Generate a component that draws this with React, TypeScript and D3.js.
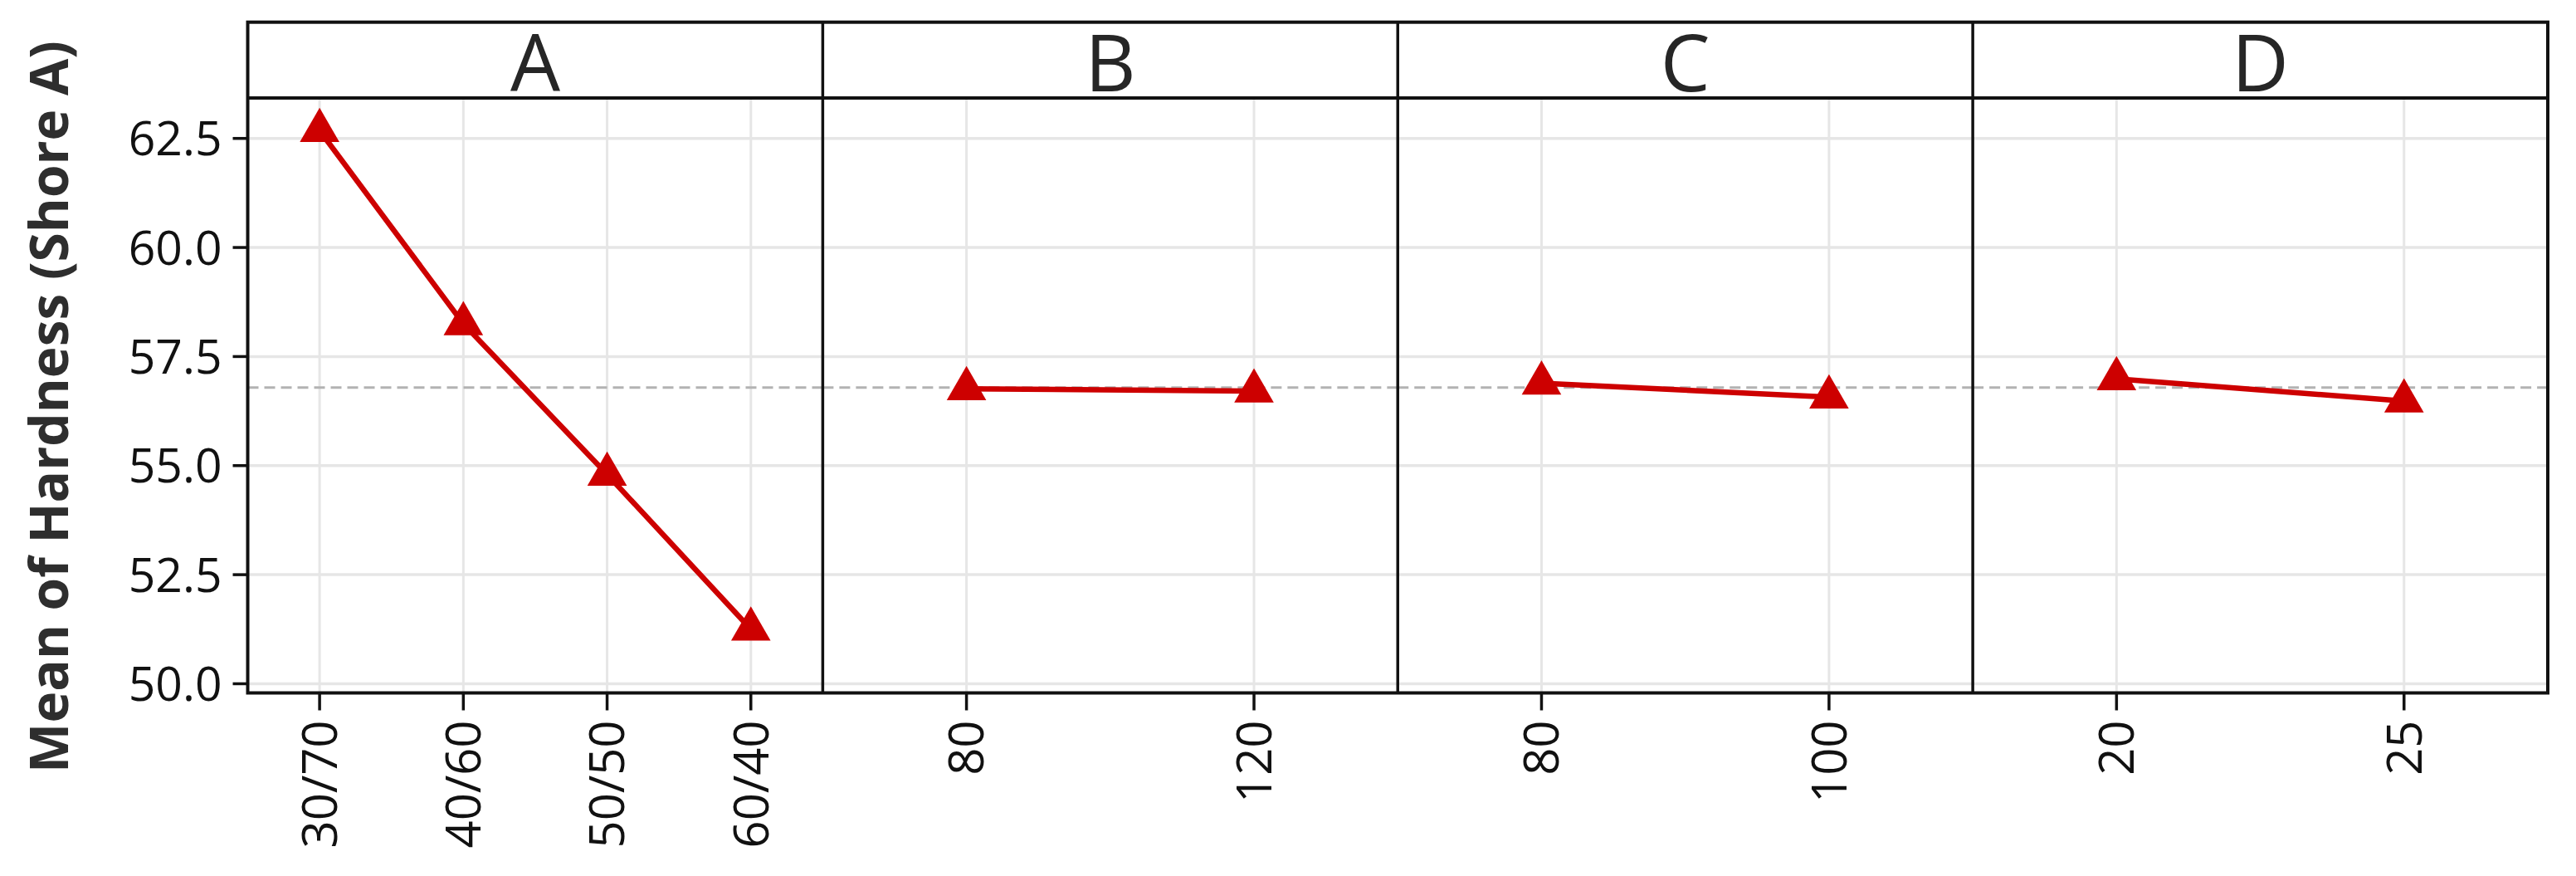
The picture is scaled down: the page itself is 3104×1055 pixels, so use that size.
import React from "react";
import * as d3 from "d3";

const factors = ["A", "B", "C", "D"];
const levelsA = ["30/70", "40/60", "50/50", "60/40"];
const levelsB = ["80", "120"];
const levelsC = ["80", "100"];
const levelsD = ["20", "25"];
const meansA = [62.68, 58.25, 54.8, 51.25];
const meansB = [56.76, 56.71];
const meansC = [56.89, 56.57];
const meansD = [56.99, 56.48];
const grandMean = 56.79;
const yTicks = [50.0, 52.5, 55.0, 57.5, 60.0, 62.5];
const yTitle = "Mean of Hardness (Shore A)";

const panelLevels = [levelsA, levelsB, levelsC, levelsD];
const panelMeans = [meansA, meansB, meansC, meansD];

const W = 3104;
const H = 1055;
const left = 298.5;
const right = 3070;
const top = 26.7;
const stripBottom = 118;
const bottom = 834.5;
const RED = "#CD0000";

export default function App() {
  React.useEffect(() => {
    document.body.style.margin = "0";
    document.body.style.overflow = "hidden";
  }, []);

  const y = d3.scaleLinear().domain([49.79, 63.427]).range([bottom, stripBottom]);
  const panelX = d3.scaleBand<string>().domain(factors).range([left, right]).padding(0);
  const bw = panelX.bandwidth();
  const r = 27.5;
  const tri = (cx: number, cy: number) =>
    `M${cx},${cy - r}L${cx + r * 0.866},${cy + r / 2}L${cx - r * 0.866},${cy + r / 2}Z`;
  const line = d3.line<[number, number]>().x((d) => d[0]).y((d) => d[1]);

  return (
    <svg width={W} height={H} style={{ position: "absolute", left: 0, top: 0, background: "#fff" }}>
      <rect x={0} y={0} width={W} height={H} fill="#fff" />
      {/* horizontal grid */}
      {yTicks.map((t) => (
        <line key={"hg" + t} x1={left} x2={right} y1={y(t)} y2={y(t)} stroke="#e6e6e6" strokeWidth={3.5} />
      ))}
      {factors.map((f, i) => {
        const x0 = panelX(f)!;
        const xs = d3.scalePoint<string>().domain(panelLevels[i]).range([x0, x0 + bw]).padding(0.5);
        const pts: [number, number][] = panelLevels[i].map((lv, j) => [xs(lv)!, y(panelMeans[i][j])]);
        return (
          <g key={f}>
            {panelLevels[i].map((lv) => (
              <line key={"vg" + lv} x1={xs(lv)} x2={xs(lv)} y1={stripBottom} y2={bottom} stroke="#e6e6e6" strokeWidth={3} />
            ))}
            <line x1={x0} x2={x0 + bw} y1={y(grandMean)} y2={y(grandMean)} stroke="#b3b3b3" strokeWidth={3} strokeDasharray="13,7" />
            <path d={line(pts)!} fill="none" stroke={RED} strokeWidth={6.5} />
            {pts.map((p, j) => (
              <path key={"pt" + j} d={tri(p[0], p[1])} fill={RED} />
            ))}
            <text
              x={x0 + bw / 2}
              y={110}
              textAnchor="middle"
              fontFamily="'Open Sans', sans-serif"
              fontSize={95}
              fill="#262626"
            >
              {f}
            </text>
            {panelLevels[i].map((lv) => (
              <g key={"xt" + lv}>
                <line x1={xs(lv)} x2={xs(lv)} y1={bottom} y2={bottom + 21} stroke="#111" strokeWidth={3.5} />
                <text
                  transform={`translate(${xs(lv)},${bottom + 33}) rotate(-90)`}
                  textAnchor="end"
                  dy="0.36em"
                  fontFamily="'Open Sans', sans-serif"
                  fontSize={58}
                  fill="#111"
                >
                  {lv}
                </text>
              </g>
            ))}
            {i > 0 && <line x1={x0} x2={x0} y1={top} y2={bottom} stroke="#111" strokeWidth={3.5} />}
          </g>
        );
      })}
      {/* strip bottom border */}
      <line x1={left} x2={right} y1={stripBottom} y2={stripBottom} stroke="#111" strokeWidth={4} />
      {/* outer frame */}
      <rect x={left} y={top} width={right - left} height={bottom - top} fill="none" stroke="#111" strokeWidth={4} />
      {/* y axis ticks */}
      {yTicks.map((t) => (
        <g key={"yt" + t}>
          <line x1={left - 18} x2={left} y1={y(t)} y2={y(t)} stroke="#111" strokeWidth={3.5} />
          <text
            x={left - 31}
            y={y(t)}
            dy="0.36em"
            textAnchor="end"
            fontFamily="'Open Sans', sans-serif"
            fontSize={57}
            fill="#111"
          >
            {d3.format(".1f")(t)}
          </text>
        </g>
      ))}
      <text
        transform={`translate(82,490) rotate(-90)`}
        textAnchor="middle"
        fontFamily="'Open Sans', sans-serif"
        fontWeight="bold"
        fontSize={64}
        fill="#2e2e2e"
      >
        {yTitle}
      </text>
    </svg>
  );
}
